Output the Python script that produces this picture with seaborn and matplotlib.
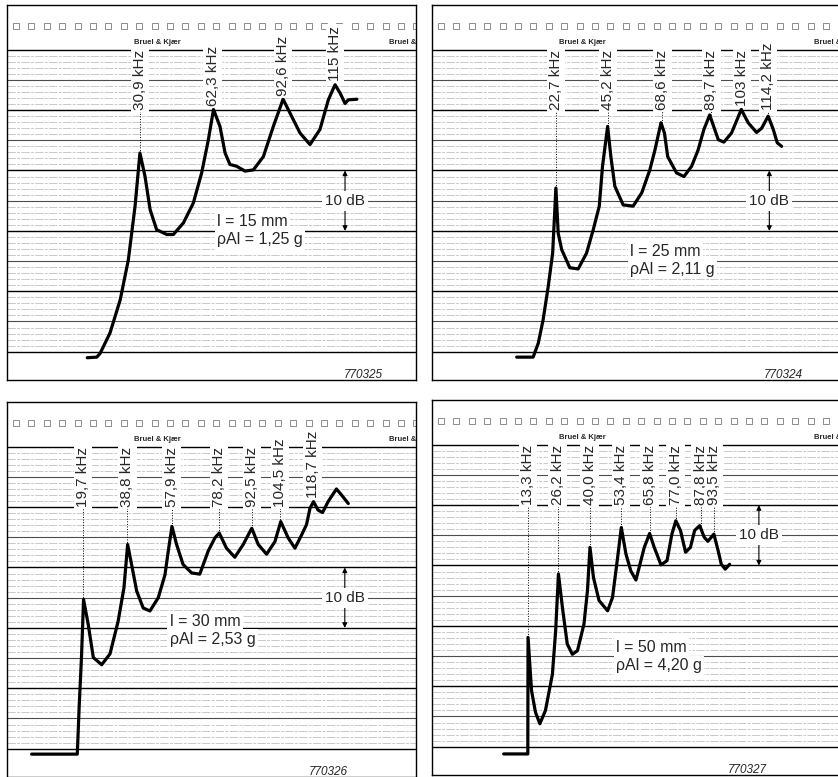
import numpy as np
import matplotlib.pyplot as plt
import seaborn as sns

f_15 = [8.2, 12.3, 13.7, 18.0, 22.4, 25.9, 28.8, 30.9, 33.1, 35.3, 38.1, 42.5, 45.3, 49.6, 53.9, 57.5,
        60.4, 62.6, 65.4, 67.6, 69.7, 72.6, 76.2, 79.8, 84.1, 88.4, 92.6, 95.6, 99.9, 104.2, 108.5,
        112.1, 115.0, 117.2, 119.3, 120.7, 124.4]
db_15 = [-1.0, -0.9, -0.3, 3.1, 8.6, 15.2, 24.1, 32.9, 29.0, 23.5, 20.2, 19.4, 19.4, 21.3, 24.6, 29.6,
         35.1, 40.1, 37.3, 32.9, 31.0, 30.7, 29.9, 30.1, 32.3, 37.3, 41.8, 39.5, 36.2, 34.3, 36.8,
         41.7, 44.2, 42.8, 41.1, 41.7, 41.8]
peaks_15 = [30.9, 62.3, 92.6, 115.0]
names_15 = ['30,9', '62,3', '92,6', '115']

f_25 = [5.8, 12.9, 15.1, 17.2, 19.4, 21.3, 22.7, 23.7, 25.2, 28.7, 32.3, 35.9, 38.8, 41.4, 42.8, 45.0,
        46.4, 48.1, 51.7, 56.0, 59.7, 63.2, 65.4, 68.0, 69.5, 70.9, 74.7, 77.9, 81.2, 84.0, 86.5,
        89.0, 90.7, 92.7, 95.1, 98.4, 102.6, 105.6, 109.2, 111.4, 114.2, 116.4, 118.1, 120.0]
db_25 = [-0.9, -0.9, 1.4, 5.3, 10.8, 16.3, 27.1, 19.6, 16.9, 13.9, 13.7, 16.3, 20.2, 24.1, 30.7, 37.3,
         32.3, 27.4, 24.3, 24.1, 26.3, 30.1, 33.4, 37.9, 36.2, 32.3, 29.6, 29.0, 30.7, 33.4, 36.8,
         39.2, 37.3, 35.1, 34.7, 36.2, 40.1, 37.9, 36.3, 37.0, 39.0, 36.8, 34.6, 34.0]
peaks_25 = [22.7, 45.2, 68.6, 89.7, 103.0, 114.2]
names_25 = ['22,7', '45,2', '68,6', '89,7', '103', '114,2']

f_30 = [-2.5, 17.2, 18.0, 19.0, 19.9, 21.9, 24.1, 27.7, 31.3, 34.8, 37.3, 38.9, 40.6, 42.8, 45.6, 48.5,
        52.1, 55.0, 56.4, 58.0, 60.0, 62.8, 66.5, 70.0, 73.6, 76.5, 78.4, 81.5, 85.1, 88.7, 92.4,
        95.2, 98.8, 102.4, 104.9, 108.1, 111.0, 113.9, 116.0, 117.5, 119.0, 121.0, 122.9, 125.3,
        128.9, 131.1, 134.0]
db_30 = [-0.9, -0.9, 6.9, 15.1, 24.7, 20.6, 15.1, 13.9, 15.7, 21.1, 26.6, 33.8, 30.5, 26.1, 23.3, 22.8,
         25.0, 28.8, 32.7, 36.8, 33.8, 30.5, 29.1, 28.9, 32.7, 34.9, 35.7, 33.2, 31.7, 33.8, 36.5,
         33.8, 32.2, 34.3, 37.6, 34.9, 33.2, 35.4, 37.1, 39.8, 40.9, 39.5, 39.1, 40.9,
         43.0, 42.0, 40.6]
peaks_30 = [19.7, 38.8, 57.9, 78.2, 92.5, 104.5, 118.7]
names_30 = ['19,7', '38,8', '57,9', '78,2', '92,5', '104,5', '118,7']

f_50 = [2.9, 13.3, 13.4, 14.9, 16.6, 18.5, 20.9, 23.9, 25.3, 26.5, 28.2, 30.3, 32.5, 34.7, 37.5, 39.0,
        40.1, 41.6, 44.0, 47.7, 49.8, 52.0, 53.6, 55.6, 57.7, 59.9, 61.3, 63.5, 65.8, 67.8, 70.7,
        73.3, 75.4, 77.1, 79.1, 81.3, 83.4, 85.2, 87.4, 89.3, 90.9, 93.5, 95.3, 96.7, 98.4, 100.3]
db_50 = [-1.2, -1.2, 18.1, 9.3, 5.7, 3.8, 6.0, 12.0, 19.2, 28.6, 23.1, 17.0, 15.3, 15.9, 20.3, 25.8,
         33.0, 28.0, 24.2, 22.5, 24.7, 31.3, 36.3, 31.9, 29.1, 27.6, 29.7, 33.0, 35.3, 33.0, 30.1,
         30.8, 35.2, 37.4, 35.8, 32.2, 33.0, 35.8, 36.6, 34.7, 34.0, 35.2, 32.5, 30.2, 29.4, 30.2]
peaks_50 = [13.3, 26.2, 40.0, 53.4, 65.8, 77.0, 87.8, 93.5]
names_50 = ['13,3', '26,2', '40,0', '53,4', '65,8', '77,0', '87,8', '93,5']

lengths = ['l = 15 mm', 'l = 25 mm', 'l = 30 mm', 'l = 50 mm']
masses = ['ρAl = 1,25 g', 'ρAl = 2,11 g', 'ρAl = 2,53 g', 'ρAl = 4,20 g']
chart_ids = ['770325', '770324', '770326', '770327']

sns.set_theme(style='white')
plt.rcParams['font.family'] = ['Liberation Sans', 'DejaVu Sans']

W, H = 838, 777
BOX_W, BOX_H = 409, 375
PX_KHZ, PX_DB = 2.32, 6.04
YTOP = 57.4

fig = plt.figure(figsize=(W / 100, H / 100), dpi=100)

# Lage der Streifen (px links, px oben), linker Rand in kHz, Textpositionen
layout = [
    ((7, 5), -26.4, (64.1, 21.5), (119.3, 20), 0.87),
    ((432, 5), -30.7, (54.6, 16.6), (114.7, 20), 0.86),
    ((7, 402), -13.1, (57.1, 21.1), (132.5, 20), 0.785),
    ((432, 400), -28.0, (51.3, 16.4), (112.9, 30), 0.77),
]
curves = [(f_15, db_15, peaks_15, names_15), (f_25, db_25, peaks_25, names_25),
          (f_30, db_30, peaks_30, names_30), (f_50, db_50, peaks_50, names_50)]

white = dict(boxstyle='square,pad=0.15', fc='white', ec='none')

for i, ((freq, db, peaks, names), (pos, xl, tpos, mark, idx)) in enumerate(zip(curves, layout)):
    left, top = pos
    ax = fig.add_axes([left / W, 1 - (top + BOX_H) / H, BOX_W / W, BOX_H / H])

    # Registrierpapier: 1-dB-Linien, 5-dB-Linien, 10-dB-Linien
    for v in range(0, 51):
        if v % 10 == 0:
            ax.axhline(v, color='black', lw=1.0, zorder=1)
        elif v % 5 == 0:
            ax.axhline(v, color='0.3', lw=0.8, zorder=1)
        else:
            ax.axhline(v, color='0.7', lw=0.5, ls=(0, (12, 2, 4, 2)), zorder=1)

    # Lochrand und Firmenaufdruck
    n = 27
    xs = (9 + 15.4 * np.arange(n)) / BOX_W
    ax.plot(xs, np.full(n, 53.9), transform=ax.get_yaxis_transform(), ls='none', marker='s',
            ms=4.4, mfc='white', mec='0.55', mew=0.7, clip_on=True)
    for xf in (127 / BOX_W, 382 / BOX_W):
        ax.text(xf, 51.2, 'Bruel & Kjær', transform=ax.get_yaxis_transform(), fontsize=5.5,
                fontweight='bold', ha='left', va='center', clip_on=True)

    sns.lineplot(x=freq, y=db, sort=False, estimator=None, color='black', lw=2.3, ax=ax,
                 zorder=4, solid_joinstyle='round', solid_capstyle='round')

    fa, da = np.array(freq), np.array(db)
    for f, name in zip(peaks, names):
        near = np.abs(fa - f) <= 1.5
        top_db = da[near].max() if near.any() else np.interp(f, fa, da)
        yb = max(40, top_db + 0.6)
        ax.plot([f, f], [top_db, yb], color='black', lw=0.7, ls=':', zorder=3)
        ax.text(f, yb, name + ' kHz', rotation=90, ha='center', va='bottom', fontsize=11,
                bbox=white, zorder=5)

    # 10-dB-Massstab
    mx, lo = mark
    for end in (lo, lo + 10):
        ax.annotate('', xy=(mx, end), xytext=(mx, lo + 5),
                    arrowprops=dict(arrowstyle='-|>', color='black', lw=0.8, mutation_scale=7,
                                    shrinkA=0, shrinkB=0), zorder=3)
    ax.text(mx, lo + 5, '10 dB', ha='center', va='center', fontsize=11,
            bbox=dict(boxstyle='square,pad=0.2', fc='white', ec='none'), zorder=5)

    tx, ty = tpos
    ax.text(tx, ty, lengths[i], ha='left', va='center', fontsize=11.5, bbox=white, zorder=5)
    ax.text(tx, ty - 3, masses[i], ha='left', va='center', fontsize=11.5, bbox=white, zorder=5)

    ax.text(idx, -3.8, chart_ids[i], transform=ax.get_yaxis_transform(), ha='center',
            va='center', style='italic', fontsize=8.5)

    ax.set_xlim(xl, xl + BOX_W / PX_KHZ)
    ax.set_ylim(YTOP - BOX_H / PX_DB, YTOP)
    ax.set_xticks([])
    ax.set_yticks([])
    ax.set(xlabel='', ylabel='')
    for s in ax.spines.values():
        s.set_visible(True)
        s.set_color('black')
        s.set_linewidth(1.0)

fig.savefig('out.png', dpi=100)
